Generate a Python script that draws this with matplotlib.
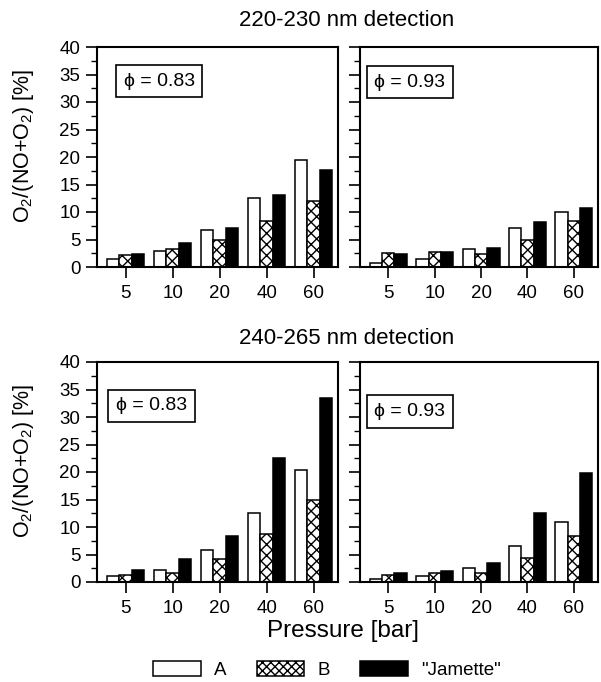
import matplotlib
matplotlib.use("Agg")
import matplotlib.pyplot as plt
from matplotlib.patches import Patch
from matplotlib.ticker import MultipleLocator
import numpy as np

plt.rcParams['font.family'] = ['Liberation Sans', 'DejaVu Sans']
plt.rcParams['mathtext.fontset'] = 'custom'
plt.rcParams['mathtext.rm'] = 'Liberation Sans'
plt.rcParams['mathtext.it'] = 'Liberation Sans'
plt.rcParams['hatch.linewidth'] = 1.0

# pression (bar)
pressures = ['5', '10', '20', '40', '60']

# 220-230 nm, phi = 0.83
a_220_083 = [1.5, 3.0, 6.8, 12.5, 19.4]
b_220_083 = [2.1, 3.2, 5.0, 8.3, 12.0]
j_220_083 = [2.3, 4.3, 7.1, 13.1, 17.6]
# 220-230 nm, phi = 0.93
a_220_093 = [0.8, 1.4, 3.2, 7.1, 10.0]
b_220_093 = [2.5, 2.7, 2.4, 5.0, 8.3]
j_220_093 = [2.3, 2.7, 3.5, 8.1, 10.7]
# 240-265 nm, phi = 0.83
a_240_083 = [1.1, 2.2, 5.9, 12.5, 20.4]
b_240_083 = [1.3, 1.7, 4.1, 8.8, 14.9]
j_240_083 = [2.2, 4.1, 8.3, 22.6, 33.4]
# 240-265 nm, phi = 0.93
a_240_093 = [0.6, 1.1, 2.6, 6.6, 11.0]
b_240_093 = [1.3, 1.6, 1.6, 4.3, 8.3]
j_240_093 = [1.6, 2.0, 3.4, 12.5, 19.8]

phis = ['0.83', '0.93', '0.83', '0.93']
titles = ['220-230 nm detection', '240-265 nm detection']

panels = [(a_220_083, b_220_083, j_220_083),
          (a_220_093, b_220_093, j_220_093),
          (a_240_083, b_240_083, j_240_083),
          (a_240_093, b_240_093, j_240_093)]

W, H = 601, 682
fig = plt.figure(figsize=(W / 100, H / 100), dpi=100)

# positions des axes en pixels (gauche, haut, droite, bas)
boxes_px = [(97, 47, 338, 267), (360, 47, 598, 267),
            (97, 362, 338, 582), (360, 362, 598, 582)]
# position des boites phi (coordonnees axes)
phi_pos = [(0.11, 0.845), (0.06, 0.84), (0.078, 0.8), (0.06, 0.775)]

x = np.arange(len(pressures))
w = 0.265
for k, (ya, yb, yj) in enumerate(panels):
    l, t, r, b = boxes_px[k]
    ax = fig.add_axes([l / W, 1 - b / H, (r - l) / W, (b - t) / H])
    ax.bar(x - w, ya, w, color='white', edgecolor='black', linewidth=1.1)
    ax.bar(x, yb, w, color='white', edgecolor='black', linewidth=1.1, hatch='xxx')
    ax.bar(x + w, yj, w, color='black', edgecolor='black', linewidth=1.1)
    ax.set_xlim(-0.61, 4.52)
    ax.set_ylim(0, 40)
    ax.set_xticks(x)
    ax.set_xticklabels(pressures, fontsize=13.5)
    ax.yaxis.set_major_locator(MultipleLocator(5))
    ax.yaxis.set_minor_locator(MultipleLocator(2.5))
    ax.tick_params(axis='y', which='major', direction='out', length=8, width=1.2, labelsize=13.5, pad=4)
    ax.tick_params(axis='y', which='minor', direction='out', length=4, width=1.0)
    ax.tick_params(axis='x', direction='out', length=8, width=1.2, pad=5)
    for s in ax.spines.values():
        s.set_linewidth(1.5)
    if k % 2 == 1:
        ax.set_yticklabels([])
    else:
        ax.set_ylabel(r'O$_2$/(NO+O$_2$) [%]', fontsize=15.5)
        ax.yaxis.set_label_coords(-0.255, 0.55)
    ax.text(phi_pos[k][0], phi_pos[k][1], '\u03d5 = ' + phis[k], transform=ax.transAxes,
            fontsize=14, va='center', ha='left',
            bbox=dict(boxstyle='square,pad=0.4', fc='white', ec='black', lw=1.2))

fig.text(347 / W, 1 - 21 / H, titles[0], ha='center', va='center', fontsize=16)
fig.text(347 / W, 1 - 338 / H, titles[1], ha='center', va='center', fontsize=16)
fig.text(343 / W, 1 - 631 / H, 'Pressure [bar]', ha='center', va='center', fontsize=17.5)

handles = [Patch(fc='white', ec='black', lw=1.1),
           Patch(fc='white', ec='black', lw=1.1, hatch='xxxx'),
           Patch(fc='black', ec='black', lw=1.1)]
fig.legend(handles, ['A', 'B', '"Jamette"'], loc='center', ncol=3,
           bbox_to_anchor=(327 / W, 1 - 670 / H), frameon=False, fontsize=13.5,
           handlelength=2.55, handleheight=0.85, handletextpad=0.7, columnspacing=1.6)

fig.savefig('out.png', dpi=100)
